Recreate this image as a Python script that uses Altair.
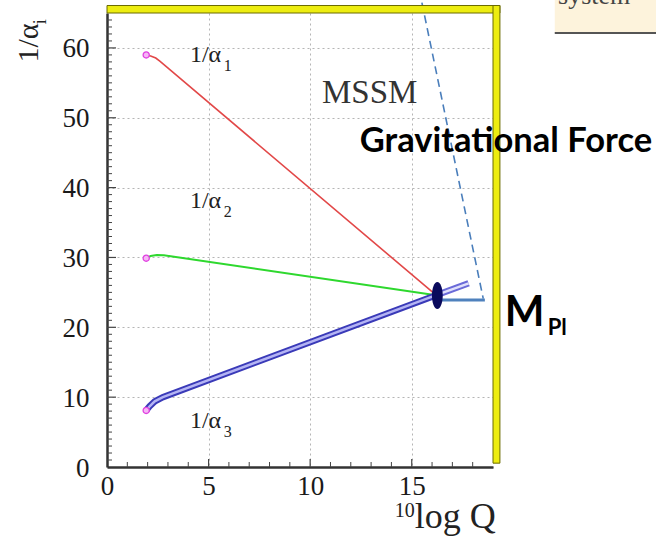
import altair as alt
import pandas as pd

# ---------------- data ----------------
red_x = [1.93, 2.15, 2.4, 2.6, 16.2]
red_y = [59.0, 58.85, 58.55, 58.1, 24.6]
green_x = [1.93, 2.15, 2.45, 2.8, 16.2]
green_y = [29.9, 30.2, 30.35, 30.3, 24.6]
blue_x = [1.93, 2.1, 2.35, 2.75, 16.2]
blue_y = [8.1, 8.7, 9.4, 10.0, 24.6]
blue_ext_x = [16.2, 17.8]
blue_ext_y = [24.6, 26.3]
start_x = [1.93, 1.93, 1.93]
start_y = [59.0, 29.9, 8.1]
unif_x = [16.26]
unif_y = [24.56]
mpl_x = [16.13, 18.6]
mpl_y = [23.9, 23.9]
grav_x = [15.37, 18.52]
grav_y = [68.3, 24.1]

x_ticks = [0, 5, 10, 15]
y_ticks = [0, 10, 20, 30, 40, 50, 60]
x_minor = [v for v in range(1, 19) if v % 5 != 0]
x_major = [5, 10, 15]
y_minor = [v for v in range(1, 65) if v % 10 != 0]
y_major = [10, 20, 30, 40, 50, 60]

SERIF = "Liberation Serif"
SANS = "Lato"

W, H = 386, 454
xs = alt.Scale(domain=[0, 19], nice=False, zero=False)
ys = alt.Scale(domain=[0, 65], nice=False, zero=False)

AX_X = alt.Axis(
    values=x_ticks, grid=True, gridDash=[2, 3], gridColor="#b5b5b5",
    ticks=False, domainColor="#333", domainWidth=2.5,
    labelFont=SERIF, labelFontSize=27, labelColor="#1a1a1a",
    labelPadding=6, labelFlush=False, labelOverlap=False, title=None)
AX_Y = alt.Axis(
    values=y_ticks, grid=True, gridDash=[2, 3], gridColor="#b5b5b5",
    ticks=False, domainColor="#333", domainWidth=2.5,
    labelFont=SERIF, labelFontSize=27, labelColor="#1a1a1a",
    labelPadding=18, labelOffset=1, labelFlush=False, labelOverlap=False, title=None)


def X(field="x"):
    return alt.X(f"{field}:Q", scale=xs, axis=AX_X)


def Y(field="y"):
    return alt.Y(f"{field}:Q", scale=ys, axis=AX_Y)


def line_layer(xv, yv, color, width, dash=None):
    df = pd.DataFrame({"x": xv, "y": yv, "o": list(range(len(xv)))})
    kw = dict(color=color, strokeWidth=width, clip=False)
    if dash:
        kw["strokeDash"] = dash
    return alt.Chart(df).mark_line(**kw).encode(x=X(), y=Y(), order="o:Q")


def text_layer(txt, x, y, size, font=SERIF, weight="normal", color="#222",
               align="left", baseline="alphabetic", angle=0):
    df = pd.DataFrame({"x": [x], "y": [y], "t": [txt]})
    kw = dict(font=font, fontSize=size, fontWeight=weight, color=color,
              align=align, baseline=baseline, clip=False)
    if angle:
        kw["angle"] = angle
    return alt.Chart(df).mark_text(**kw).encode(x=X(), y=Y(), text="t:N")


def rect_layer(x, x2, y, y2, **kw):
    df = pd.DataFrame({"x": [x], "x2": [x2], "y": [y], "y2": [y2]})
    return alt.Chart(df).mark_rect(clip=False, **kw).encode(
        x=X(), x2="x2:Q", y=Y(), y2="y2:Q")


# minor / major inward ticks
ytm = alt.Chart(pd.DataFrame({"v": y_minor})).mark_rule(color="#444", strokeWidth=1).encode(
    y=Y("v"), x=alt.value(0), x2=alt.value(5))
ytM = alt.Chart(pd.DataFrame({"v": y_major})).mark_rule(color="#444", strokeWidth=1.2).encode(
    y=Y("v"), x=alt.value(0), x2=alt.value(9))
xtm = alt.Chart(pd.DataFrame({"v": x_minor})).mark_rule(color="#444", strokeWidth=1).encode(
    x=X("v"), y=alt.value(H), y2=alt.value(H - 5))
xtM = alt.Chart(pd.DataFrame({"v": x_major})).mark_rule(color="#444", strokeWidth=1.2).encode(
    x=X("v"), y=alt.value(H), y2=alt.value(H - 8))

# beige box top right
box = rect_layer(22.04, 28.0, 62.15, 70.0, fill="#fdf3dc")
box_line = alt.Chart(pd.DataFrame({"x": [22.04], "x2": [28.0], "y": [62.15]})).mark_rule(
    color="#555", strokeWidth=2, clip=False).encode(x=X(), x2="x2:Q", y=Y())
box_text = text_layer("system", 22.2, 66.3, 26, color="#444")

# yellow 3D frame
frame_top = rect_layer(0.0, 19.34, 65.0, 66.07, fill="#eded10", stroke="#6a6a00", strokeWidth=1)
frame_right = rect_layer(19.0, 19.34, 0.55, 66.07, fill="#eded10", stroke="#6a6a00", strokeWidth=1)

# curves
red = line_layer(red_x, red_y, "#e24848", 1.6)
green = line_layer(green_x, green_y, "#2ed82e", 2)
blue_o = line_layer(blue_x, blue_y, "#3a3ab8", 6.5)
blue_i = line_layer(blue_x, blue_y, "#b4b4f4", 2.5)
blue_eo = line_layer(blue_ext_x, blue_ext_y, "#6a6ad8", 6.5)
blue_ei = line_layer(blue_ext_x, blue_ext_y, "#e0e0fb", 2.5)

starts = alt.Chart(pd.DataFrame({"x": start_x, "y": start_y})).mark_point(
    shape="circle", size=38, filled=True, fill="#f6b6f6", stroke="#e040e0", strokeWidth=1.3,
    opacity=1, clip=False).encode(x=X(), y=Y())

ellipse_path = ("M0,-1C0.221,-1,0.4,-0.552,0.4,0C0.4,0.552,0.221,1,0,1"
                "C-0.221,1,-0.4,0.552,-0.4,0C-0.4,-0.552,-0.221,-1,0,-1Z")
unif = alt.Chart(pd.DataFrame({"x": unif_x, "y": unif_y})).mark_point(
    shape=ellipse_path, size=729, filled=True, fill="#0a0a5c", opacity=1,
    clip=False).encode(x=X(), y=Y())

mpl = line_layer(mpl_x, mpl_y, "#4f81bd", 3)
grav = line_layer(grav_x, grav_y, "#4a7ebb", 1.6, dash=[8, 5])

# annotations
texts = [
    text_layer("1/α", 4.08, 58.0, 24),
    text_layer("1", 5.75, 56.7, 16),
    text_layer("1/α", 4.08, 37.1, 24),
    text_layer("2", 5.75, 35.8, 16),
    text_layer("1/α", 4.08, 5.6, 24),
    text_layer("3", 5.75, 4.3, 16),
    text_layer("MSSM", 10.58, 52.1, 33, color="#333"),
    text_layer("1/α", -3.4, 57.9, 30, angle=270),
    text_layer("i", -3.0, 63.4, 18, angle=270),
    text_layer("Gravitational Force", 12.44, 45.1, 34.5, font=SANS, weight="bold", color="#000"),
    text_layer("M", 19.58, 20.2, 42, font=SANS, weight="bold", color="#000"),
    text_layer("Pl", 21.69, 18.9, 22, font=SANS, weight="bold", color="#000"),
    text_layer("log Q", 15.15, -8.8, 36),
    text_layer("10", 14.17, -7.2, 20),
]

chart = alt.layer(
    box, box_line, box_text, ytm, ytM, xtm, xtM,
    red, green, blue_o, blue_i, blue_eo, blue_ei, starts,
    mpl, grav, unif, frame_top, frame_right, *texts
).properties(
    width=W, height=H,
    padding={"left": 107, "top": 13, "right": 163, "bottom": 73},
    autosize=alt.AutoSizeParams(type="none"),
    background="white",
).configure_view(stroke=None)

chart.save("out.html", embed_options={"renderer": "svg", "actions": False})
